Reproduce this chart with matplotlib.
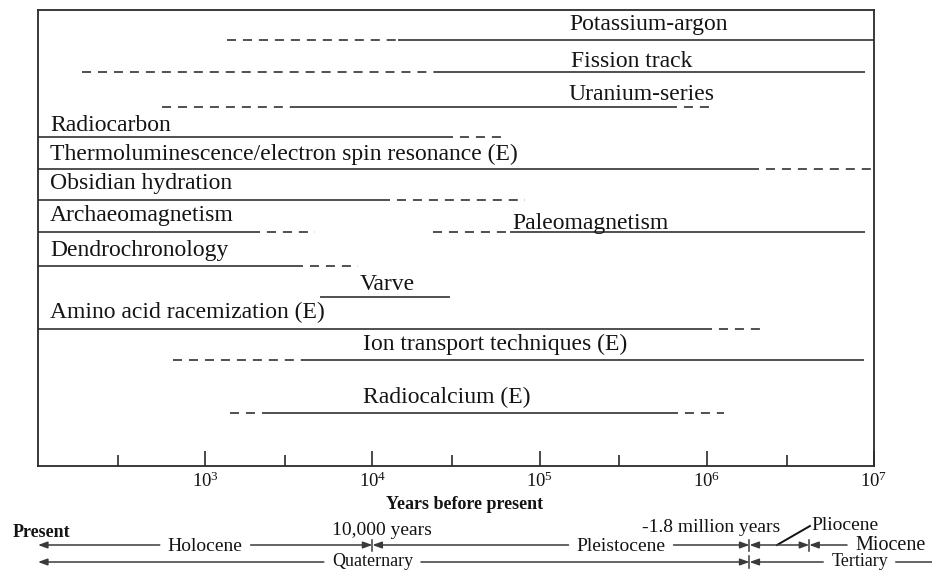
import matplotlib
matplotlib.use("Agg")
import matplotlib.pyplot as plt
import matplotlib.transforms as mtransforms

plt.rcParams['font.family'] = ['Liberation Serif', 'DejaVu Serif']
plt.rcParams['mathtext.fontset'] = 'custom'
plt.rcParams['mathtext.rm'] = 'Liberation Serif'
plt.rcParams['mathtext.it'] = 'Liberation Serif:italic'
plt.rcParams['mathtext.bf'] = 'Liberation Serif:bold'
plt.rcParams['lines.scale_dashes'] = False

# ---------------- data (years before present) ----------------
methods = ["Potassium-argon", "Fission track", "Uranium-series", "Radiocarbon",
           "Thermoluminescence/electron spin resonance (E)", "Obsidian hydration",
           "Archaeomagnetism", "Paleomagnetism", "Dendrochronology", "Varve",
           "Amino acid racemization (E)", "Ion transport techniques (E)",
           "Radiocalcium (E)"]
solid_start = [14200, 24700, 3350, 100, 100, 100, 100, 66500, 100, 4860, 100, 4120, 2340]
solid_end = [1e7, 8.8e6, 6.64e5, 30300, 2.05e6, 12700, 2130, 8.8e6, 3850, 29100, 1.07e6, 8.7e6, 6.73e5]
dash_lead_start = [1350, 183, 552, None, None, None, None, 23000, None, None, None, 641, 1410]
dash_tail_end = [None, None, 1.09e6, 64000, 1e7, 82000, 4540, None, 8200, None, 2.26e6, None, 1.27e6]

major_ticks = [1e3, 1e4, 1e5, 1e6, 1e7]
major_labels = [r'$10^{3}$', r'$10^{4}$', r'$10^{5}$', r'$10^{6}$', r'$10^{7}$']
minor_ticks = [3e2, 3e3, 3e4, 3e5, 3e6]

present_age = 100
holocene_end = 1e4
pleistocene_end = 1.8e6
pliocene_end = 4.1e6
x_min, x_max = 100, 1e7

# ---------------- layout ----------------
W, H = 932, 570
ax_left_px, ax_right_px, ax_top_px, ax_bot_px = 38, 874, 10, 466
row_y = [40, 72, 107, 137, 169, 200, 232, 232, 266, 297, 329, 360, 413]
label_x = [0.635, 0.6376, 0.635, 0.0144, 0.0144, 0.0144, 0.0144, 0.567, 0.0144,
           0.4175, 0.0144, 0.3888, 0.3888]
label_ha = ['left'] * 9 + ['center'] + ['left'] * 3
label_base = [30, 67, 100, 131, 160, 189, 221, 229, 256, 290, 318, 350, 403]

line_color = '#3a3a3a'
text_color = '#141414'
line_w = 1.25
dash_style = (0, (6.5, 5.0))
dash_style_gap = (6.5, (6.5, 5.0))

fig = plt.figure(figsize=(W / 100, H / 100), dpi=100)
ax = fig.add_axes([ax_left_px / W, 1 - ax_bot_px / H,
                   (ax_right_px - ax_left_px) / W, (ax_bot_px - ax_top_px) / H])
ax.set_xscale('log')
ax.set_xlim(x_min, x_max)
ax.set_ylim(ax_bot_px, ax_top_px)
ax.set_yticks([])
for s in ax.spines.values():
    s.set_linewidth(1.3)
    s.set_color('#2a2a2a')

ax.set_xticks(major_ticks, labels=major_labels)
ax.set_xticks(minor_ticks, minor=True)
ax.xaxis.set_minor_formatter(plt.NullFormatter())
ax.tick_params(axis='x', which='major', direction='in', length=11, width=1.2,
               colors='#2a2a2a', labelsize=13.5, pad=4.0, labelcolor=text_color)
ax.tick_params(axis='x', which='minor', direction='in', length=8, width=1.2,
               colors='#2a2a2a')

lab_tr = mtransforms.blended_transform_factory(ax.transAxes, ax.transData)
for i, name in enumerate(methods):
    y = row_y[i]
    ax.plot([solid_start[i], solid_end[i]], [y, y], color=line_color, lw=line_w,
            solid_capstyle='butt')
    if dash_lead_start[i] is not None:
        ax.plot([dash_lead_start[i], solid_start[i]], [y, y], color=line_color,
                lw=line_w, linestyle=dash_style, dash_capstyle='butt')
    if dash_tail_end[i] is not None:
        ax.plot([solid_end[i], dash_tail_end[i]], [y, y], color=line_color,
                lw=line_w, linestyle=dash_style_gap, dash_capstyle='butt')
    ax.text(label_x[i], label_base[i], name, transform=lab_tr, ha=label_ha[i],
            va='baseline', fontsize=17, color=text_color)

# ---------------- bottom: axis title and geologic time ----------------
ax.text(35800, 509, 'Years before present', ha='center', va='baseline',
        fontsize=13, fontweight='bold', color=text_color, clip_on=False)
ax.text(70.8, 537, 'Present', ha='left', va='baseline', fontsize=13,
        fontweight='bold', color=text_color, clip_on=False)
ax.text(11400, 535, '10,000 years', ha='center', va='baseline', fontsize=14,
        color=text_color, clip_on=False)
ax.text(1.06e6, 532, '-1.8 million years', ha='center', va='baseline', fontsize=14,
        color=text_color, clip_on=False)
ax.text(4.2e6, 530, 'Pliocene', ha='left', va='baseline', fontsize=14,
        color=text_color, clip_on=False)

row1, row2 = 545, 562
t_hol = ax.text(1000, 551, 'Holocene', ha='center', va='baseline', fontsize=14, color=text_color)
t_ple = ax.text(3.07e5, 551, 'Pleistocene', ha='center', va='baseline', fontsize=14, color=text_color)
t_mio = ax.text(7.7e6, 550, 'Miocene', ha='left', va='baseline', fontsize=14.5, color=text_color)
t_qua = ax.text(1e4, 566, 'Quaternary', ha='center', va='baseline', fontsize=13, color=text_color)
t_ter = ax.text(8.2e6, 566, 'Tertiary', ha='center', va='baseline', fontsize=13, color=text_color)
for t in (t_hol, t_ple, t_mio, t_qua, t_ter):
    t.set_clip_on(False)

fig.canvas.draw()
renderer = fig.canvas.get_renderer()
inv = ax.transData.inverted()
GAP = 8


def ext(t):
    bb = t.get_window_extent(renderer)
    a = inv.transform((bb.x0 - GAP, bb.y0))[0]
    b = inv.transform((bb.x1 + GAP, bb.y0))[0]
    return a, b


def arrow(x_from, x_to, y):
    ax.annotate('', xy=(x_to, y), xytext=(x_from, y), xycoords='data',
                annotation_clip=False,
                arrowprops=dict(arrowstyle='-|>,head_length=0.55,head_width=0.2',
                                lw=1.1, color=line_color, shrinkA=0, shrinkB=0,
                                mutation_scale=10))


def tick(x, y0, y1):
    ax.plot([x, x], [y0, y1], color=line_color, lw=1.1, clip_on=False)


a, b = ext(t_hol)
arrow(a, present_age, row1)
arrow(b, holocene_end, row1)
a, b = ext(t_ple)
arrow(a, holocene_end, row1)
arrow(b, pleistocene_end, row1)
plio_mid = 2.63e6
arrow(plio_mid, pleistocene_end, row1)
arrow(plio_mid, pliocene_end, row1)
ax.plot([plio_mid, 4.14e6], [row1, 526], color='#111111', lw=1.4, clip_on=False)
a, b = ext(t_mio)
arrow(a, pliocene_end, row1)
for xb in (holocene_end, pleistocene_end, pliocene_end):
    tick(xb, row1 - 5.5, row1 + 5.5)

a, b = ext(t_qua)
arrow(a, present_age, row2)
arrow(b, pleistocene_end, row2)
a, b = ext(t_ter)
arrow(a, pleistocene_end, row2)
ax.plot([b, 2.3e7], [row2, row2], color=line_color, lw=1.1, clip_on=False)
tick(pleistocene_end, row2 - 6, row2 + 6)

fig.savefig('out.png', dpi=100)
